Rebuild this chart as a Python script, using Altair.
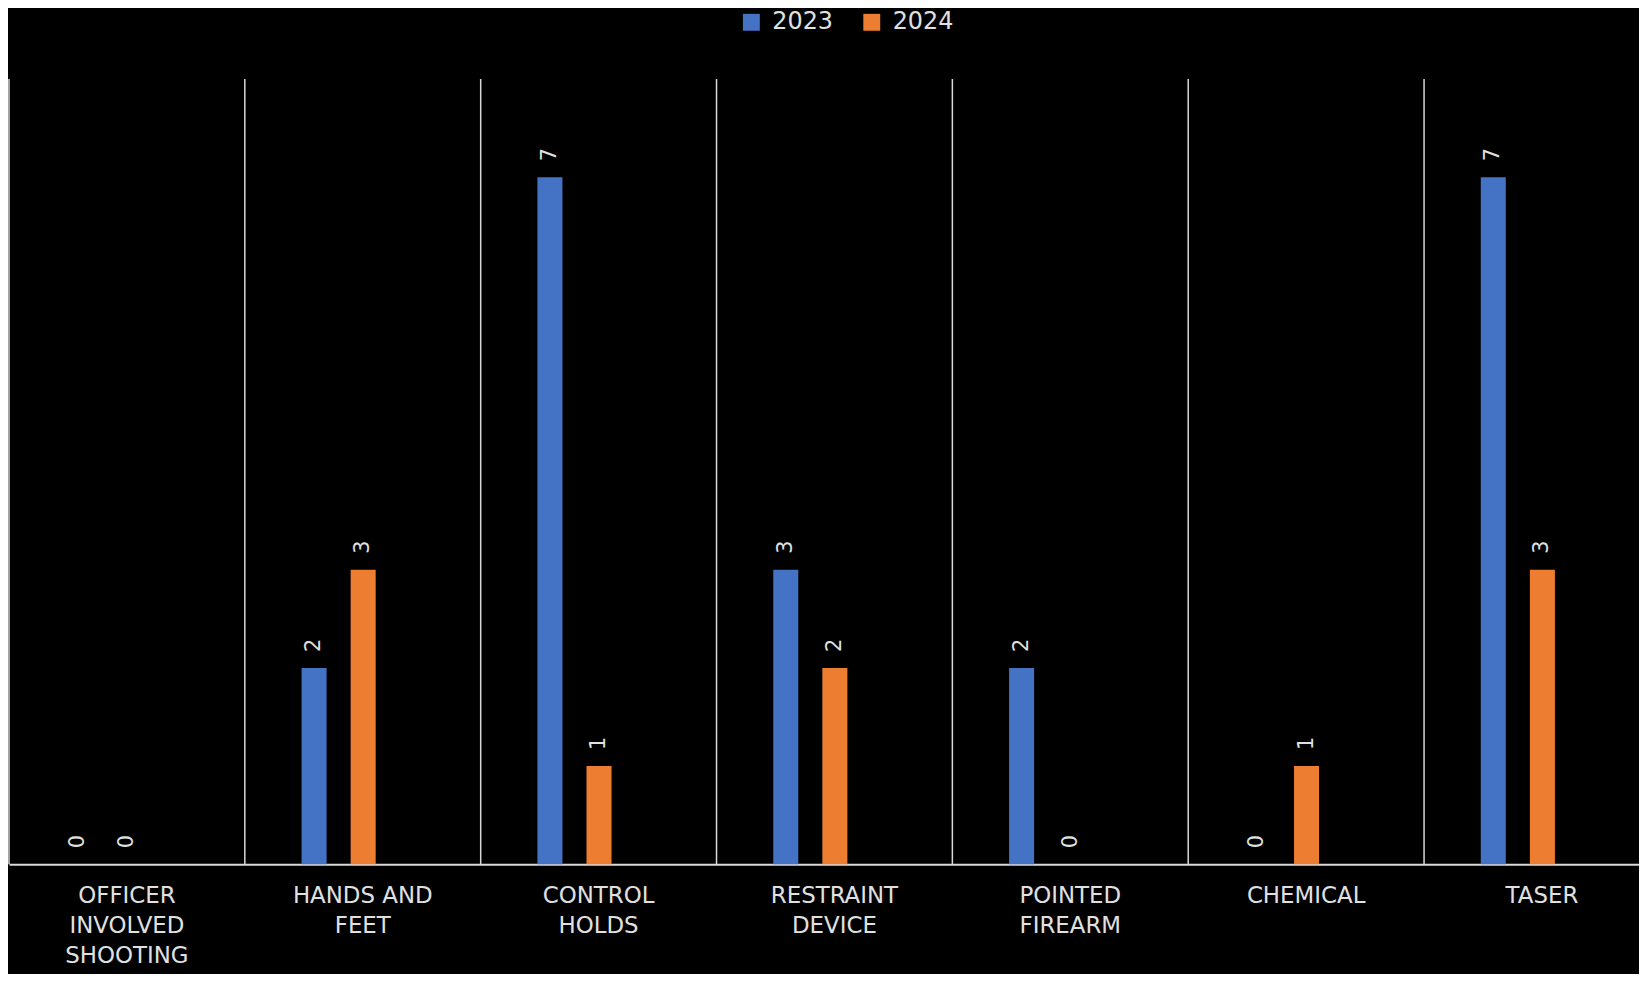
import altair as alt
import pandas as pd

# Category labels (line-broken as in the reference)
category_lines = [
    ["OFFICER", "INVOLVED", "SHOOTING"],
    ["HANDS AND", "FEET"],
    ["CONTROL", "HOLDS"],
    ["RESTRAINT", "DEVICE"],
    ["POINTED", "FIREARM"],
    ["CHEMICAL"],
    ["TASER"],
]
categories = [" ".join(l) for l in category_lines]
years = ["2023", "2024"]
values_2023 = [0, 2, 7, 3, 2, 0, 7]
values_2024 = [0, 3, 1, 2, 0, 1, 3]
colors = ["#4472C4", "#ED7D31"]

rows = []
for c, a, b in zip(categories, values_2023, values_2024):
    rows.append({"category": c, "year": "2023", "value": a})
    rows.append({"category": c, "year": "2024", "value": b})
df = pd.DataFrame(rows)
cat_df = pd.DataFrame({"category": categories})

# multi-line label expression
expr = "''"
for name, lines in reversed(list(zip(categories, category_lines))):
    arr = "[" + ",".join("'" + s + "'" for s in lines) + "]"
    expr = f"datum.value == '{name}' ? {arr} : ({expr})"

FONT = "DejaVu Sans"
TXT = "#e0e0e0"

x_scale = alt.Scale(domain=categories, range=[0, 1659], paddingInner=0, paddingOuter=0)
xo_scale = alt.Scale(domain=years, range=[57, 131.5], paddingInner=0.49, paddingOuter=0)
y_scale = alt.Scale(domain=[0, 8], nice=False, zero=True)

x_axis = alt.Axis(
    title=None,
    grid=False,
    ticks=False,
    domain=True,
    domainColor="#d9d9d9",
    domainWidth=2,
    labelAngle=0,
    labelExpr=expr,
    labelFont=FONT,
    labelFontSize=23,
    labelLineHeight=30,
    labelColor=TXT,
    labelPadding=21,
    labelLimit=400,
    labelOverlap=False,
    labelBound=False,
    labelFlush=False,
)

grid = alt.Chart(cat_df).mark_rule(color="#d9d9d9", strokeWidth=1.5).encode(
    x=alt.X("category:N", scale=x_scale, sort=categories, bandPosition=0, axis=x_axis)
)

bars = alt.Chart(df).mark_bar().encode(
    x=alt.X("category:N", scale=x_scale, sort=categories, axis=x_axis),
    xOffset=alt.XOffset("year:N", scale=xo_scale),
    y=alt.Y("value:Q", scale=y_scale, axis=None),
    color=alt.Color(
        "year:N",
        scale=alt.Scale(domain=years, range=colors),
        legend=alt.Legend(
            title=None,
            orient="none",
            direction="horizontal",
            legendX=734,
            legendY=-69,
            padding=0,
            symbolType="square",
            symbolSize=289,
            symbolStrokeWidth=0,
            labelFont=FONT,
            labelFontSize=24,
            labelColor=TXT,
            labelOffset=9,
            columnPadding=26,
        ),
    ),
)

labels = alt.Chart(df).mark_text(
    angle=270, align="left", baseline="middle", dx=16,
    font=FONT, fontSize=21, color=TXT,
).encode(
    x=alt.X("category:N", scale=x_scale, sort=categories, axis=x_axis),
    xOffset=alt.XOffset("year:N", scale=xo_scale),
    y=alt.Y("value:Q", scale=y_scale, axis=None),
    text=alt.Text("value:Q"),
)

chart = (
    alt.layer(grid, bars, labels)
    .properties(
        width=1638,
        height=789,
        background="black",
        padding={"left": 1, "top": 69, "right": 0, "bottom": 108},
        autosize=alt.AutoSizeParams(type="none"),
    )
    .configure_view(stroke=None)
)

chart.save("out.html", embed_options={"renderer": "svg", "actions": False})
